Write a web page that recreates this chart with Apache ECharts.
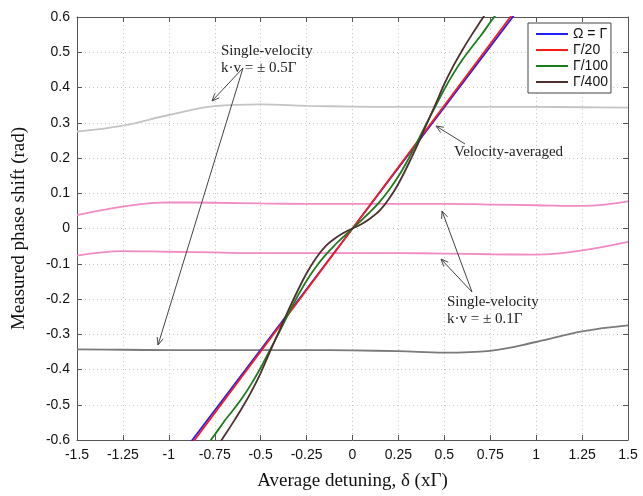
<!DOCTYPE html>
<html><head><meta charset="utf-8">
<script src="https://cdn.jsdelivr.net/npm/echarts@6/dist/echarts.min.js"></script>
<style>html,body{margin:0;padding:0;background:#fff}#c{width:643px;height:496px}</style>
</head><body><div id="c"></div>
<script>
// ---- data ----
var xTickLabels = ['-1.5','-1.25','-1','-0.75','-0.5','-0.25','0','0.25','0.5','0.75','1','1.25','1.5'];
var seriesNames = ['Ω = Γ','Γ/20','Γ/100','Γ/400'];
var xLin = [-1, -0.5, 0, 0.5, 1];
var yBlue = [-0.688, -0.344, 0, 0.344, 0.688];
var yRed  = [-0.698, -0.349, 0, 0.349, 0.698];
var xAvg = [-1,-0.9,-0.8,-0.75,-0.7,-0.65,-0.6,-0.55,-0.5,-0.45,-0.4,-0.35,-0.3,-0.25,-0.2,-0.15,-0.1,-0.05,0,
            0.05,0.1,0.15,0.2,0.25,0.3,0.35,0.4,0.45,0.5,0.55,0.6,0.65,0.7,0.75,0.8,0.9,1];
var yGreen = [-0.76,-0.69,-0.62,-0.585,-0.548,-0.515,-0.48,-0.44,-0.395,-0.345,-0.295,-0.243,-0.193,-0.148,-0.11,-0.077,-0.049,-0.024,0,
              0.024,0.049,0.077,0.11,0.148,0.193,0.243,0.295,0.345,0.395,0.44,0.48,0.515,0.548,0.585,0.62,0.69,0.76];
var yBrown = [-0.8,-0.74,-0.67,-0.63,-0.59,-0.55,-0.508,-0.462,-0.41,-0.35,-0.292,-0.233,-0.178,-0.127,-0.085,-0.052,-0.03,-0.013,0,
              0.013,0.03,0.052,0.085,0.127,0.178,0.233,0.292,0.35,0.41,0.462,0.508,0.55,0.59,0.63,0.67,0.74,0.8];
var xSingle = [-1.5,-1.25,-1,-0.75,-0.5,-0.25,0,0.25,0.5,0.75,1,1.25,1.5];
var yPlus05  = [0.275,0.292,0.322,0.347,0.352,0.348,0.346,0.345,0.345,0.345,0.345,0.344,0.343];
var yMinus05 = [-0.343,-0.344,-0.345,-0.345,-0.345,-0.345,-0.346,-0.348,-0.352,-0.347,-0.322,-0.292,-0.275];
var yPlus01  = [0.038,0.062,0.074,0.073,0.071,0.07,0.07,0.07,0.07,0.068,0.066,0.064,0.077];
var yMinus01 = [-0.077,-0.064,-0.066,-0.068,-0.07,-0.07,-0.07,-0.07,-0.071,-0.073,-0.074,-0.062,-0.038];

function pairs(xs, ys){ return xs.map(function(x,i){ return [x, ys[i]]; }); }

var chart = echarts.init(document.getElementById('c'));

function arrow(x1,y1,x2,y2){
  var a = Math.atan2(y2-y1, x2-x1), L = 8, w = 0.4;
  var p1 = [x2 - L*Math.cos(a-w), y2 - L*Math.sin(a-w)];
  var p2 = [x2 - L*Math.cos(a+w), y2 - L*Math.sin(a+w)];
  return [
    {type:'line', shape:{x1:x1,y1:y1,x2:x2,y2:y2}, style:{stroke:'#444', lineWidth:1}, z:100},
    {type:'polyline', shape:{points:[p1,[x2,y2],p2]}, style:{stroke:'#444', lineWidth:1, fill:null}, z:100}
  ];
}
var serif = 'Liberation Serif';
var graphics = [].concat(
  arrow(243,68,212,101),
  arrow(243,68,158,345),
  arrow(465,144,436,126),
  arrow(472,292,442,211),
  arrow(472,292,441,259),
  [
    {type:'text', left:221, top:43, style:{text:'Single-velocity\nk·v = ± 0.5Γ', font:'15px "Liberation Serif"', fill:'#222', lineHeight:17}, z:101},
    {type:'text', left:454, top:145, style:{text:'Velocity-averaged', font:'15px "Liberation Serif"', fill:'#222'}, z:101},
    {type:'text', left:447, top:294, style:{text:'Single-velocity\nk·v = ± 0.1Γ', font:'15px "Liberation Serif"', fill:'#222', lineHeight:17}, z:101}
  ]
);

function lineS(name, data, color, smooth, z){
  return {name:name, type:'line', data:data, symbol:'none', smooth:smooth, clip:true,
          lineStyle:{color:color, width:1.8}, itemStyle:{color:color}, z:z||2};
}

var option = {
  animation:false,
  grid:{left:77, right:15, top:17, bottom:52},
  legend:{
    data:seriesNames, orient:'vertical', left:528, top:23,
    icon:'rect', itemWidth:32, itemHeight:2, itemGap:2,
    padding:[4,3,4,8], borderColor:'#444', borderWidth:1, backgroundColor:'#fff',
    textStyle:{fontFamily:'Liberation Sans', fontSize:14, color:'#111', lineHeight:14}, z:50
  },
  xAxis:[{
    type:'value', min:-1.5, max:1.5, interval:0.25,
    name:'Average detuning, δ (xΓ)', nameLocation:'middle', nameGap:32,
    nameTextStyle:{fontFamily:serif, fontSize:19, color:'#111'},
    axisLine:{onZero:false, lineStyle:{color:'#555'}},
    axisTick:{inside:true, length:5, lineStyle:{color:'#555'}},
    axisLabel:{fontFamily:'Liberation Sans', fontSize:14, color:'#111', margin:8,
      formatter:function(v){ var i = Math.round((v+1.5)/0.25); return xTickLabels[i]; }},
    splitLine:{show:true, lineStyle:{color:'#c8c8c8', type:[1,3]}}
  },{
    type:'value', min:-1.5, max:1.5, interval:0.25, position:'top',
    axisLine:{onZero:false, lineStyle:{color:'#555'}},
    axisTick:{inside:true, length:5, lineStyle:{color:'#555'}},
    axisLabel:{show:false}, splitLine:{show:false}
  }],
  yAxis:[{
    type:'value', min:-0.6, max:0.6, interval:0.1,
    name:'Measured phase shift (rad)', nameLocation:'middle', nameGap:48,
    nameTextStyle:{fontFamily:serif, fontSize:19, color:'#111'},
    axisLine:{show:true, onZero:false, lineStyle:{color:'#555'}},
    axisTick:{show:true, inside:true, length:5, lineStyle:{color:'#555'}},
    axisLabel:{fontFamily:'Liberation Sans', fontSize:14, color:'#111', margin:7,
      formatter:function(v){ return (Math.round(v*10)/10).toString(); }},
    splitLine:{show:true, lineStyle:{color:'#c8c8c8', type:[1,3]}}
  },{
    type:'value', min:-0.6, max:0.6, interval:0.1, position:'right',
    axisLine:{show:true, onZero:false, lineStyle:{color:'#555'}},
    axisTick:{show:true, inside:true, length:5, lineStyle:{color:'#555'}},
    axisLabel:{show:false}, splitLine:{show:false}
  }],
  series:[
    lineS('single+0.5', pairs(xSingle,yPlus05), '#c4c4c4', 0.4),
    lineS('single-0.5', pairs(xSingle,yMinus05), '#7a7a7a', 0.4),
    lineS('single+0.1', pairs(xSingle,yPlus01), '#f28ac4', 0.4),
    lineS('single-0.1', pairs(xSingle,yMinus01), '#f28ac4', 0.4),
    lineS(seriesNames[0], pairs(xLin,yBlue), '#1f1fff', false, 3),
    lineS(seriesNames[1], pairs(xLin,yRed), '#ff1a1a', false, 4),
    lineS(seriesNames[2], pairs(xAvg,yGreen), '#1a7d1a', 0.25, 5),
    lineS(seriesNames[3], pairs(xAvg,yBrown), '#4e2f2f', 0.25, 6)
  ],
  graphic:graphics
};
chart.setOption(option);
</script></body></html>
